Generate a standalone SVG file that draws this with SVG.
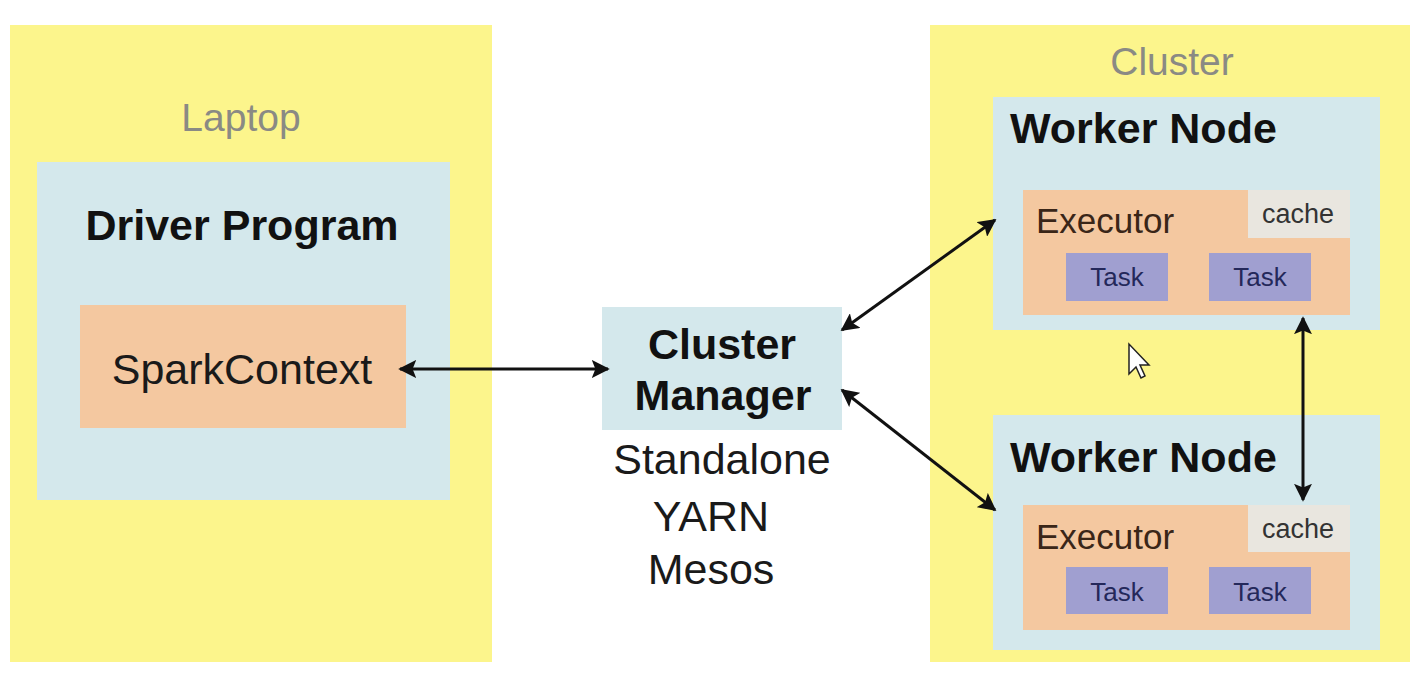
<svg xmlns="http://www.w3.org/2000/svg" width="1422" height="682" viewBox="0 0 1422 682">
<style>
.yel{fill:#fcf58c}
.blu{fill:#d4e8ec}
.org{fill:#f4c8a0}
.cache{fill:#e9e6df}
.task{fill:#a09fd0}
.grey{font-family:"Liberation Sans",Arial,sans-serif;fill:#8a8a84;font-size:39px}
.bold{font-family:"Liberation Sans",Arial,sans-serif;font-weight:bold;fill:#111;font-size:43px}
.reg{font-family:"Liberation Sans",Arial,sans-serif;fill:#1a1a1a;font-size:43px}
.exe{font-family:"Liberation Sans",Arial,sans-serif;fill:#3a2618;font-size:35px}
.cch{font-family:"Liberation Sans",Arial,sans-serif;fill:#333;font-size:27px}
.tsk{font-family:"Liberation Sans",Arial,sans-serif;fill:#24285a;font-size:26px}
.conn{stroke:#111;stroke-width:3;fill:none;marker-start:url(#ah);marker-end:url(#ah)}
</style>
<defs>
<marker id="ah" viewBox="0 0 10 10" refX="9" refY="5" markerWidth="6" markerHeight="6" orient="auto-start-reverse" markerUnits="strokeWidth">
<path d="M0,0 L10,5 L0,10 L2,5 Z" fill="#111"/>
</marker>
</defs>
<rect width="1422" height="682" fill="#ffffff"/>
<g id="laptop">
<rect class="yel" x="10" y="25" width="482" height="637"/>
<text class="grey" x="241" y="131" text-anchor="middle">Laptop</text>
</g>
<g id="driver">
<rect class="blu" x="37" y="162" width="413" height="338"/>
<text class="bold" x="242" y="240" text-anchor="middle">Driver Program</text>
</g>
<g id="sparkcontext">
<rect class="org" x="80" y="305" width="326" height="123"/>
<text class="reg" x="242" y="384" text-anchor="middle">SparkContext</text>
</g>
<g id="clustermanager">
<rect class="blu" x="602" y="307" width="240" height="123"/>
<text class="bold" x="722" y="359" text-anchor="middle">Cluster</text>
<text class="bold" x="723" y="410" text-anchor="middle">Manager</text>
<text class="reg" x="722" y="474" text-anchor="middle">Standalone</text>
<text class="reg" x="711" y="531" text-anchor="middle">YARN</text>
<text class="reg" x="711" y="584" text-anchor="middle">Mesos</text>
</g>
<g id="cluster">
<rect class="yel" x="930" y="25" width="480" height="637"/>
<text class="grey" x="1172" y="75" text-anchor="middle">Cluster</text>
</g>
<g id="worker1">
<rect class="blu" x="993" y="97" width="387" height="233"/>
<text class="bold" x="1010" y="143">Worker Node</text>
<path class="org" d="M1023,190 H1248 V238 H1350 V315 H1023 Z"/>
<rect class="cache" x="1248" y="190" width="102" height="48"/>
<text class="exe" x="1036" y="233">Executor</text>
<text class="cch" x="1262" y="223">cache</text>
<rect class="task" x="1066" y="253" width="102" height="48"/>
<text class="tsk" x="1117" y="286" text-anchor="middle">Task</text>
<rect class="task" x="1209" y="253" width="102" height="48"/>
<text class="tsk" x="1260" y="286" text-anchor="middle">Task</text>
</g>
<g id="worker2">
<rect class="blu" x="993" y="415" width="387" height="235"/>
<text class="bold" x="1010" y="472">Worker Node</text>
<path class="org" d="M1023,505 H1248 V552 H1350 V630 H1023 Z"/>
<rect class="cache" x="1248" y="505" width="102" height="47"/>
<text class="exe" x="1036" y="549">Executor</text>
<text class="cch" x="1262" y="538">cache</text>
<rect class="task" x="1066" y="567" width="102" height="47"/>
<text class="tsk" x="1117" y="601" text-anchor="middle">Task</text>
<rect class="task" x="1209" y="567" width="102" height="47"/>
<text class="tsk" x="1260" y="601" text-anchor="middle">Task</text>
</g>
<g id="connectors">
<line class="conn" x1="400" y1="369" x2="608" y2="369"/>
<line class="conn" x1="842" y1="330" x2="995" y2="220"/>
<line class="conn" x1="842" y1="390" x2="995" y2="510"/>
<line class="conn" x1="1303" y1="318" x2="1303" y2="500"/>
</g>
<path d="M1129,344 L1129,374 L1136,367 L1141,378 L1145,376 L1140,365 L1149,365 Z" fill="#fff" stroke="#222" stroke-width="1.5"/>
</svg>
